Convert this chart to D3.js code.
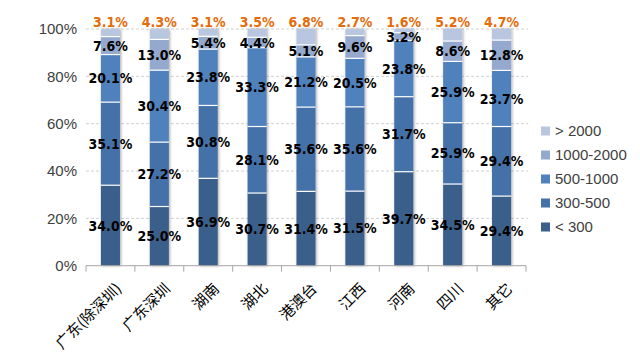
<!DOCTYPE html>
<html><head><meta charset="utf-8">
<script src="https://cdn.jsdelivr.net/npm/d3@7"></script>
<style>html,body{margin:0;padding:0;background:#fff;}svg{display:block;}</style>
</head><body>
<svg id="c" width="640" height="356"></svg>
<script>
const categories = ["广东(除深圳)","广东深圳","湖南","湖北","港澳台","江西","河南","四川","其它"];
const seriesNames = ["< 300","300-500","500-1000","1000-2000","> 2000"];
const lt300   = [34.0,25.0,36.9,30.7,31.4,31.5,39.7,34.5,29.4];
const s300_500 = [35.1,27.2,30.8,28.1,35.6,35.6,31.7,25.9,29.4];
const s500_1000 = [20.1,30.4,23.8,33.3,21.2,20.5,23.8,25.9,23.7];
const s1000_2000 = [7.6,13.0,5.4,4.4,5.1,9.6,3.2,8.6,12.8];
const gt2000 = [3.1,4.3,3.1,3.5,6.8,2.7,1.6,5.2,4.7];
const yTicks = [0,20,40,60,80,100];
const colors = ["#3A5F8B","#4571A9","#4F81BD","#95A9CE","#B9C6DF"];

const series = [lt300,s300_500,s500_1000,s1000_2000,gt2000];
const svg = d3.select("#c");
const x0 = 86, x1 = 526, yTop = 29, yBot = 265.7;
const x = d3.scaleBand().domain(categories).range([x0,x1]).paddingInner(0.61).paddingOuter(0.305);
const y = d3.scaleLinear().domain([0,100]).range([yBot,yTop]);

const defs = svg.append("defs");
const f = defs.append("filter").attr("id","sh").attr("x","-50%").attr("y","-10%").attr("width","200%").attr("height","120%");
f.append("feGaussianBlur").attr("in","SourceAlpha").attr("stdDeviation",1.6).attr("result","b");
f.append("feOffset").attr("in","b").attr("dx",0.8).attr("dy",0).attr("result","o");
f.append("feComponentTransfer").attr("in","o").attr("result","o2").append("feFuncA").attr("type","linear").attr("slope",0.35);
const fm = f.append("feMerge"); fm.append("feMergeNode").attr("in","o2"); fm.append("feMergeNode").attr("in","SourceGraphic");

// gridlines
svg.append("g").selectAll("line").data(yTicks.filter(d=>d>0)).join("line")
  .attr("x1",x0).attr("x2",x1+2).attr("y1",d=>y(d)).attr("y2",d=>y(d))
  .attr("stroke","#D0D0D0").attr("stroke-width",1).attr("stroke-dasharray","3,2");

// y labels
svg.append("g").selectAll("text").data(yTicks).join("text")
  .attr("x",77).attr("y",d=>y(d)).attr("dy","0.36em").attr("text-anchor","end")
  .attr("font-family","Liberation Sans, Arial, sans-serif").attr("font-size",15).attr("fill","#404040")
  .text(d=>d+"%");

// stacked data
const rows = categories.map((c,i)=>{const o={cat:c}; seriesNames.forEach((s,k)=>o[s]=series[k][i]); return o;});
const stack = d3.stack().keys(seriesNames)(rows);

const bars = svg.append("g");
categories.forEach((c,i)=>{
  const g = bars.append("g").attr("filter","url(#sh)");
  stack.forEach((layer,k)=>{
    const d = layer[i];
    g.append("rect").attr("x",x(c)).attr("width",x.bandwidth())
      .attr("y",y(d[1])).attr("height",y(d[0])-y(d[1]))
      .attr("fill",colors[k]);
  });
  stack.forEach((layer,k)=>{
    if(k===0) return;
    const d = layer[i];
    g.append("line").attr("x1",x(c)).attr("x2",x(c)+x.bandwidth())
      .attr("y1",y(d[0])).attr("y2",y(d[0])).attr("stroke","#fff").attr("stroke-width",1.2);
  });
});

// labels
const lab = svg.append("g").attr("font-family","DejaVu Sans Condensed, DejaVu Sans, sans-serif").attr("font-weight","bold").attr("font-size",14).attr("text-anchor","middle");
stack.forEach((layer,k)=>{
  categories.forEach((c,i)=>{
    const d = layer[i];
    const cx = x(c)+x.bandwidth()/2;
    const cy = k===4 ? 22 : y((d[0]+d[1])/2);
    lab.append("text").attr("x",cx).attr("y",cy).attr("dy","0.36em")
      .attr("fill", k===4 ? "#E46C0A" : "#000")
      .text(series[k][i].toFixed(1)+"%");
  });
});

// x axis
const ax = svg.append("g");
ax.append("line").attr("x1",x0).attr("x2",x1).attr("y1",yBot).attr("y2",yBot).attr("stroke","#A6A6A6");
d3.range(categories.length+1).forEach(i=>{
  const xx = x0 + i*(x1-x0)/categories.length;
  ax.append("line").attr("x1",xx).attr("x2",xx).attr("y1",yBot).attr("y2",yBot+6).attr("stroke","#A6A6A6");
});
ax.selectAll("text").data(categories).join("text")
  .attr("transform",d=>`translate(${x(d)+x.bandwidth()/2+8},${yBot+20}) rotate(-45)`)
  .attr("text-anchor","end").attr("dy","0.36em")
  .attr("font-family","Noto Sans CJK SC, sans-serif").attr("font-size",15).attr("fill","#000")
  .text(d=>d);

// legend
const lg = svg.append("g");
const lgOrder = [4,3,2,1,0];
lgOrder.forEach((k,j)=>{
  const yy = 131 + j*24;
  lg.append("rect").attr("x",541).attr("y",yy-4.5).attr("width",9).attr("height",9).attr("fill",colors[k]);
  lg.append("text").attr("x",555).attr("y",yy).attr("dy","0.36em")
    .attr("font-family","Liberation Sans, Arial, sans-serif").attr("font-size",15).attr("fill","#404040")
    .text(seriesNames[k]);
});
</script>
</body></html>
